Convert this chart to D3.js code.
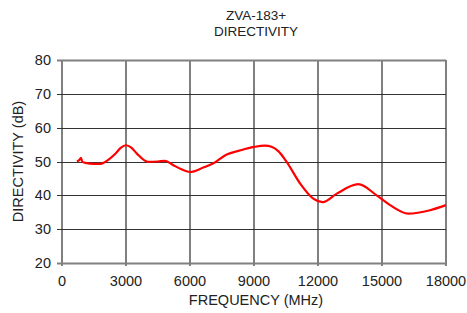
<!DOCTYPE html>
<html>
<head>
<meta charset="utf-8">
<script src="https://cdn.jsdelivr.net/npm/d3@7"></script>
<style>
  body { margin: 0; background: #fff; }
  svg { font-family: "Liberation Sans", Arial, sans-serif; }
</style>
</head>
<body>
<svg width="467" height="313"></svg>
<script>
// frequency (MHz) and directivity (dB)
const freq = [700, 830, 890, 950, 1100, 1500, 1800, 2100, 2500, 2750, 3000, 3250, 3500, 4030, 4500, 4830, 5220, 5600, 6000, 6620, 7080, 7720, 8300, 9000, 9500, 9850, 10150, 10530, 11160, 11780, 12220, 12880, 13890, 14750, 15380, 16230, 17250, 18000];
const directivity = [50.0, 50.6, 51.1, 49.9, 49.6, 49.3, 49.3, 50.2, 52.3, 54.0, 54.8, 54.1, 52.4, 49.9, 50.0, 50.2, 48.9, 47.7, 46.9, 48.2, 49.4, 52.1, 53.2, 54.3, 54.7, 54.3, 53.0, 49.9, 43.5, 39.0, 38.0, 40.5, 43.3, 40.0, 37.1, 34.6, 35.6, 37.1];
const xTicks = [0, 3000, 6000, 9000, 12000, 15000, 18000];
const yTicks = [20, 30, 40, 50, 60, 70, 80];
const titleLines = ["ZVA-183+", "DIRECTIVITY"];

const data = freq.map((f, i) => ({f: f, d: directivity[i]}));

const plotLeft = 62, plotRight = 446, plotTop = 60, plotBottom = 263;
const svg = d3.select('svg');

const x = d3.scaleLinear().domain([0, 18000]).range([plotLeft, plotRight]);
const y = d3.scaleLinear().domain([20, 80]).range([plotBottom, plotTop]);

// vertical grid (gray, thicker)
svg.append('g')
    .selectAll('line')
    .data(xTicks)
    .enter()
    .append('line')
    .attr('x1', d => x(d)).attr('x2', d => x(d))
    .attr('y1', plotTop).attr('y2', plotBottom + 3)
    .attr('stroke', '#808080')
    .attr('stroke-width', 2);

// horizontal grid
svg.append('g')
    .selectAll('line')
    .data(yTicks)
    .enter()
    .append('line')
    .attr('x1', plotLeft - 5).attr('x2', plotRight)
    .attr('y1', d => Math.round(y(d)) + 0.5).attr('y2', d => Math.round(y(d)) + 0.5)
    .attr('stroke', d => (d == 20 || d == 80) ? '#808080' : '#333')
    .attr('stroke-width', d => (d == 20 || d == 80) ? 2 : 1);

// y tick labels
svg.append('g')
    .selectAll('text')
    .data(yTicks)
    .enter()
    .append('text')
    .attr('x', plotLeft - 11)
    .attr('y', d => y(d) + 5)
    .attr('text-anchor', 'end')
    .attr('font-size', 14.5)
    .attr('fill', '#222')
    .text(d => d);

// x tick labels
svg.append('g')
    .selectAll('text')
    .data(xTicks)
    .enter()
    .append('text')
    .attr('x', d => x(d))
    .attr('y', 286)
    .attr('text-anchor', 'middle')
    .attr('font-size', 14.5)
    .attr('fill', '#222')
    .text(d => d);

// axis titles
svg.append('text')
    .attr('x', (plotLeft + plotRight) / 2 + 2)
    .attr('y', 305)
    .attr('text-anchor', 'middle')
    .attr('font-size', 14.5)
    .attr('fill', '#222')
    .text('FREQUENCY (MHz)');

svg.append('text')
    .attr('transform', 'translate(23,' + ((plotTop + plotBottom) / 2) + ') rotate(-90)')
    .attr('text-anchor', 'middle')
    .attr('font-size', 14.5)
    .attr('fill', '#222')
    .text('DIRECTIVITY (dB)');

// title
svg.append('g')
    .selectAll('text')
    .data(titleLines)
    .enter()
    .append('text')
    .attr('x', 256)
    .attr('y', (d, i) => 20 + i * 16)
    .attr('text-anchor', 'middle')
    .attr('font-size', 13.5)
    .attr('fill', '#222')
    .text(d => d);

// curve
const line = d3.line()
    .x(d => x(d.f))
    .y(d => y(d.d))
    .curve(d3.curveMonotoneX);

svg.append('path')
    .datum(data)
    .attr('d', line)
    .attr('fill', 'none')
    .attr('stroke', '#ff0000')
    .attr('stroke-width', 2.2)
    .attr('stroke-linejoin', 'round');
</script>
</body>
</html>
